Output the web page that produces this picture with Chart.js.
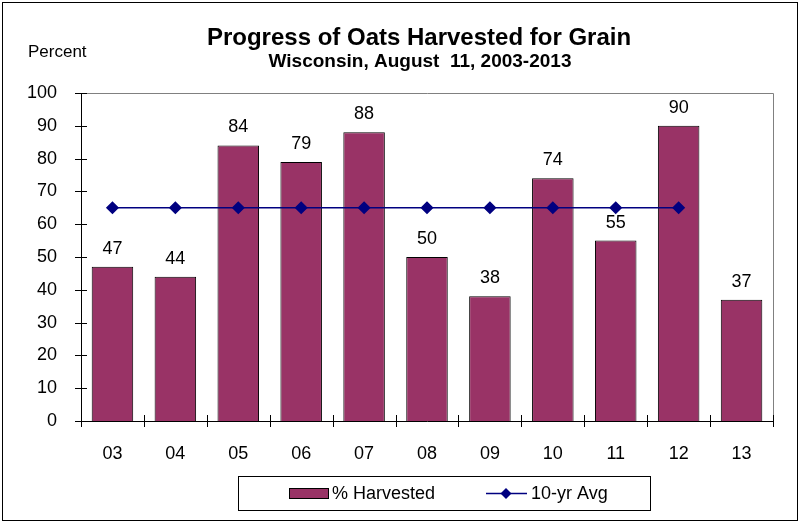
<!DOCTYPE html>
<html><head><meta charset="utf-8">
<script src="https://cdn.jsdelivr.net/npm/chart.js@4/dist/chart.umd.min.js"></script>
<style>html,body{margin:0;padding:0;background:#fff}#wrap{width:801px;height:524px;position:relative}</style>
</head><body><div id="wrap"><canvas id="c" width="801" height="524"></canvas></div>
<script>
const categories = ["03","04","05","06","07","08","09","10","11","12","13"];
const harvested = [47,44,84,79,88,50,38,74,55,90,37];
const tenYrAvg = [65,65,65,65,65,65,65,65,65,65];
const yTicks = [0,10,20,30,40,50,60,70,80,90,100];
const titleText = "Progress of Oats Harvested for Grain";
const subtitleText = "Wisconsin, August  11, 2003-2013";
const yAxisTitle = "Percent";
const seriesNames = ["% Harvested","10-yr Avg"];

const FONT = "'Liberation Sans', Arial, sans-serif";
const BAR = '#993366', LINE = '#000080';

const deco = {
  id: 'deco',
  afterDraw(chart) {
    const ctx = chart.ctx, ca = chart.chartArea;
    const y = chart.scales.y;
    ctx.save();
    ctx.strokeStyle = '#000'; ctx.lineWidth = 1;
    ctx.strokeRect(2.5, 2.5, 795, 518);
    ctx.strokeStyle = '#808080';
    ctx.beginPath();
    ctx.moveTo(ca.left, ca.top + 0.5); ctx.lineTo(ca.right + 0.5, ca.top + 0.5); ctx.lineTo(ca.right + 0.5, ca.bottom);
    ctx.stroke();
    ctx.strokeStyle = '#000';
    ctx.beginPath();
    ctx.moveTo(ca.left + 0.5, ca.top); ctx.lineTo(ca.left + 0.5, ca.bottom + 0.5); ctx.lineTo(ca.right, ca.bottom + 0.5);
    yTicks.forEach(v => {
      const py = Math.round(y.getPixelForValue(v)) + 0.5;
      ctx.moveTo(ca.left - 6, py); ctx.lineTo(ca.left + 6, py);
    });
    const n = categories.length, w = (ca.right - ca.left) / n;
    for (let i = 0; i <= n; i++) {
      const px = Math.round(ca.left + i * w) + 0.5;
      ctx.moveTo(px, ca.bottom - 6); ctx.lineTo(px, ca.bottom + 6);
    }
    ctx.stroke();
    ctx.fillStyle = '#000'; ctx.textAlign = 'center'; ctx.textBaseline = 'alphabetic';
    ctx.font = 'bold 24px ' + FONT;
    ctx.fillText(titleText, 419, 45);
    ctx.font = 'bold 19px ' + FONT;
    ctx.fillText(subtitleText, 420, 67);
    ctx.textAlign = 'left'; ctx.font = '17px ' + FONT;
    ctx.fillText(yAxisTitle, 28, 57);
    ctx.textAlign = 'center'; ctx.font = '18px ' + FONT;
    const meta = chart.getDatasetMeta(1);
    meta.data.forEach((el, i) => {
      ctx.fillText(String(harvested[i]), el.x, el.y - 13);
    });
    ctx.strokeStyle = '#000'; ctx.lineWidth = 1;
    ctx.strokeRect(238.5, 476.5, 412, 34);
    ctx.fillStyle = BAR; ctx.fillRect(289, 488, 40, 11);
    ctx.strokeRect(289.5, 488.5, 39, 10);
    ctx.fillStyle = '#000'; ctx.textAlign = 'left'; ctx.textBaseline = 'middle'; ctx.font = '18px ' + FONT;
    ctx.fillText(seriesNames[0], 332, 494);
    ctx.strokeStyle = LINE; ctx.lineWidth = 1.5;
    ctx.beginPath(); ctx.moveTo(486, 493.5); ctx.lineTo(527, 493.5); ctx.stroke();
    ctx.fillStyle = LINE;
    ctx.beginPath(); ctx.moveTo(506, 488); ctx.lineTo(511.5, 493.5); ctx.lineTo(506, 499); ctx.lineTo(500.5, 493.5); ctx.closePath(); ctx.fill();
    ctx.fillStyle = '#000';
    ctx.fillText(seriesNames[1], 531, 494);
    ctx.restore();
  }
};

new Chart(document.getElementById('c'), {
  data: {
    labels: categories,
    datasets: [
      { type: 'line', label: seriesNames[1], data: tenYrAvg, borderColor: LINE, backgroundColor: LINE,
        borderWidth: 1.5, pointStyle: 'rectRot', pointRadius: 5.5, pointBackgroundColor: LINE, pointBorderColor: LINE,
        order: 0, tension: 0 },
      { type: 'bar', label: seriesNames[0], data: harvested, backgroundColor: BAR, borderColor: '#000',
        borderWidth: 1, barPercentage: 0.66, categoryPercentage: 1, order: 1 }
    ]
  },
  options: {
    responsive: false, animation: false, devicePixelRatio: 1,
    layout: { padding: { left: 0, top: 93, right: 28, bottom: 63 } },
    plugins: { legend: { display: false }, tooltip: { enabled: false }, title: { display: false } },
    scales: {
      x: { type: 'category', offset: true,
        grid: { display: false }, border: { display: false },
        ticks: { color: '#000', font: { family: FONT, size: 18 }, padding: 14, maxRotation: 0 },
        afterFit(s) { s.height = 40; } },
      y: { min: 0, max: 100,
        grid: { display: false }, border: { display: false },
        ticks: { stepSize: 10, color: '#000', font: { family: FONT, size: 18 }, padding: 16 },
        afterFit(s) { s.width = 81; } }
    }
  },
  plugins: [deco]
});
</script></body></html>
